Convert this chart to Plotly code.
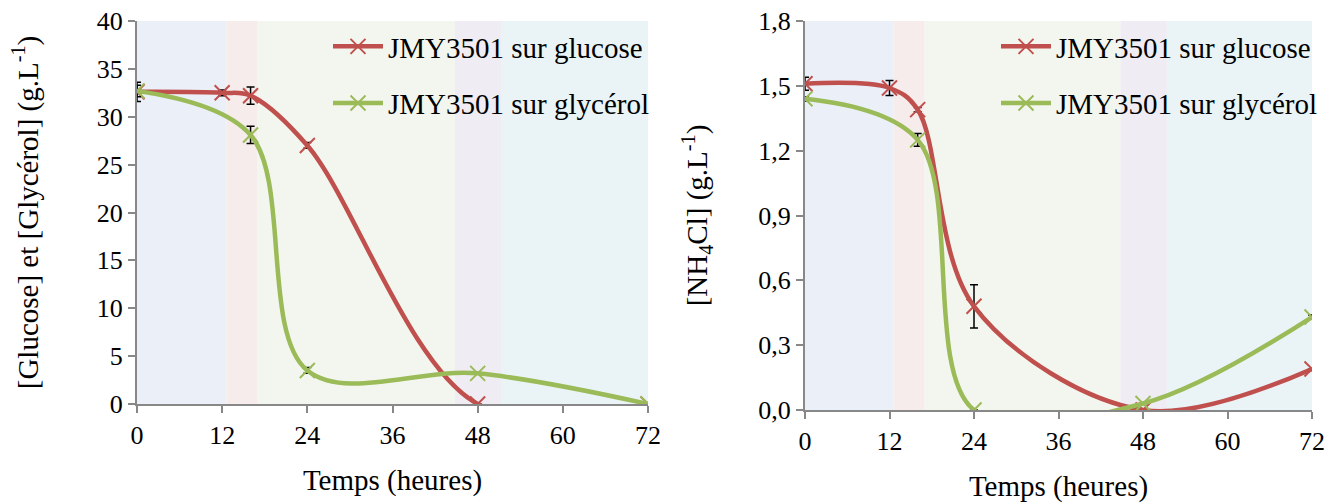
import plotly.graph_objects as go
from plotly.subplots import make_subplots

# Time points (hours)
t_glc = [0, 12, 16, 24, 48, 72]
t_gly = [0, 16, 24, 48, 72]

# Left panel: substrate concentration (g/L)
sub_glc = [32.6, 32.5, 32.2, 27.0, 0.0, 0.0]
sub_glc_err = [1.0, 0.3, 0.9, 0.3, 0.0, 0.0]
sub_gly = [32.7, 28.1, 3.5, 3.2, 0.0]
sub_gly_err = [0.6, 0.9, 0.3, 0.0, 0.0]

# Right panel: NH4Cl concentration (g/L)
nh4_glc = [1.51, 1.49, 1.39, 0.48, 0.0, 0.19]
nh4_glc_err = [0.03, 0.035, 0.01, 0.10, 0.0, 0.0]
nh4_gly = [1.44, 1.25, 0.0, 0.03, 0.43]
nh4_gly_err = [0.01, 0.03, 0.0, 0.0, 0.01]

# Phase bands (hours)
band_edges = [0, 12.6, 17, 44.8, 51.4, 72]
band_colors = ["#ebf0f8", "#f6eceb", "#f3f6ee", "#efedf3", "#eaf4f7"]

x_ticks = [0, 12, 24, 36, 48, 60, 72]

RED = "#c0504d"
GREEN = "#9bbb59"
FONT = "Liberation Serif, Times New Roman, serif"

W, H = 1340, 503


def px(x):
    return x / W


def py(y):
    return 1 - y / H


fig = make_subplots(rows=1, cols=2)


def add_series(x, y, err, name, color, col, legend):
    fig.add_trace(go.Scatter(
        x=x, y=y, name=name, mode="lines+markers",
        line=dict(color=color, width=4.5, shape="spline", smoothing=1.0),
        marker=dict(symbol="x-thin", size=15, line=dict(color=color, width=2)),
        error_y=dict(type="data", array=err, color="black", thickness=1.5, width=4),
        legend=legend, legendgroup=name + legend,
    ), row=1, col=col)


add_series(t_glc, sub_glc, sub_glc_err, "JMY3501 sur glucose", RED, 1, "legend")
add_series(t_gly, sub_gly, sub_gly_err, "JMY3501 sur glycérol", GREEN, 1, "legend")
add_series(t_glc, nh4_glc, nh4_glc_err, "JMY3501 sur glucose", RED, 2, "legend2")
add_series(t_gly, nh4_gly, nh4_gly_err, "JMY3501 sur glycérol", GREEN, 2, "legend2")

for xr in ["x", "x2"]:
    for i in range(len(band_colors)):
        fig.add_shape(type="rect", xref=xr, yref=xr.replace("x", "y") + " domain",
                      x0=band_edges[i], x1=band_edges[i + 1], y0=0, y1=1,
                      fillcolor=band_colors[i], line_width=0, layer="below")

axis_style = dict(showline=True, linecolor="#888888", linewidth=2, ticks="outside",
                  tickcolor="#888888", ticklen=7, tickwidth=2, showgrid=False,
                  zeroline=False, automargin=False,
                  tickfont=dict(family=FONT, size=26, color="black"))

fig.update_xaxes(range=[0, 72], tickvals=x_ticks, **axis_style,
                 title=dict(text="Temps (heures)", font=dict(family=FONT, size=29, color="black"),
                            standoff=20))
fig.update_yaxes(**axis_style)

legend_style = dict(y=py(21), yanchor="top", bgcolor="rgba(0,0,0,0)",
                    font=dict(family=FONT, size=29, color="black"),
                    tracegroupgap=16, itemwidth=50)

fig.update_layout(
    width=W, height=H,
    margin=dict(l=0, r=0, t=0, b=0),
    plot_bgcolor="white", paper_bgcolor="white",
    xaxis=dict(domain=[px(137), px(648)]),
    xaxis2=dict(domain=[px(805), px(1312)]),
    yaxis=dict(domain=[py(404), py(21)], range=[0, 40], dtick=5,
               title=dict(text="[Glucose] et [Glycérol] (g.L<sup>-1</sup>)",
                          font=dict(family=FONT, size=29, color="black"), standoff=50)),
    yaxis2=dict(domain=[py(410), py(21)], range=[0, 1.8], dtick=0.3, tickformat=".1f",
                title=dict(text="[NH<sub>4</sub>Cl] (g.L<sup>-1</sup>)",
                           font=dict(family=FONT, size=29, color="black"), standoff=42)),
    separators=", ",
    legend=dict(x=px(328), **legend_style),
    legend2=dict(x=px(996), **legend_style),
)

# drop the page's default body margin so the figure sits at the window origin
fig.write_html("out.html", config={"displayModeBar": False},
               post_script="document.body.style.margin = '0';")
